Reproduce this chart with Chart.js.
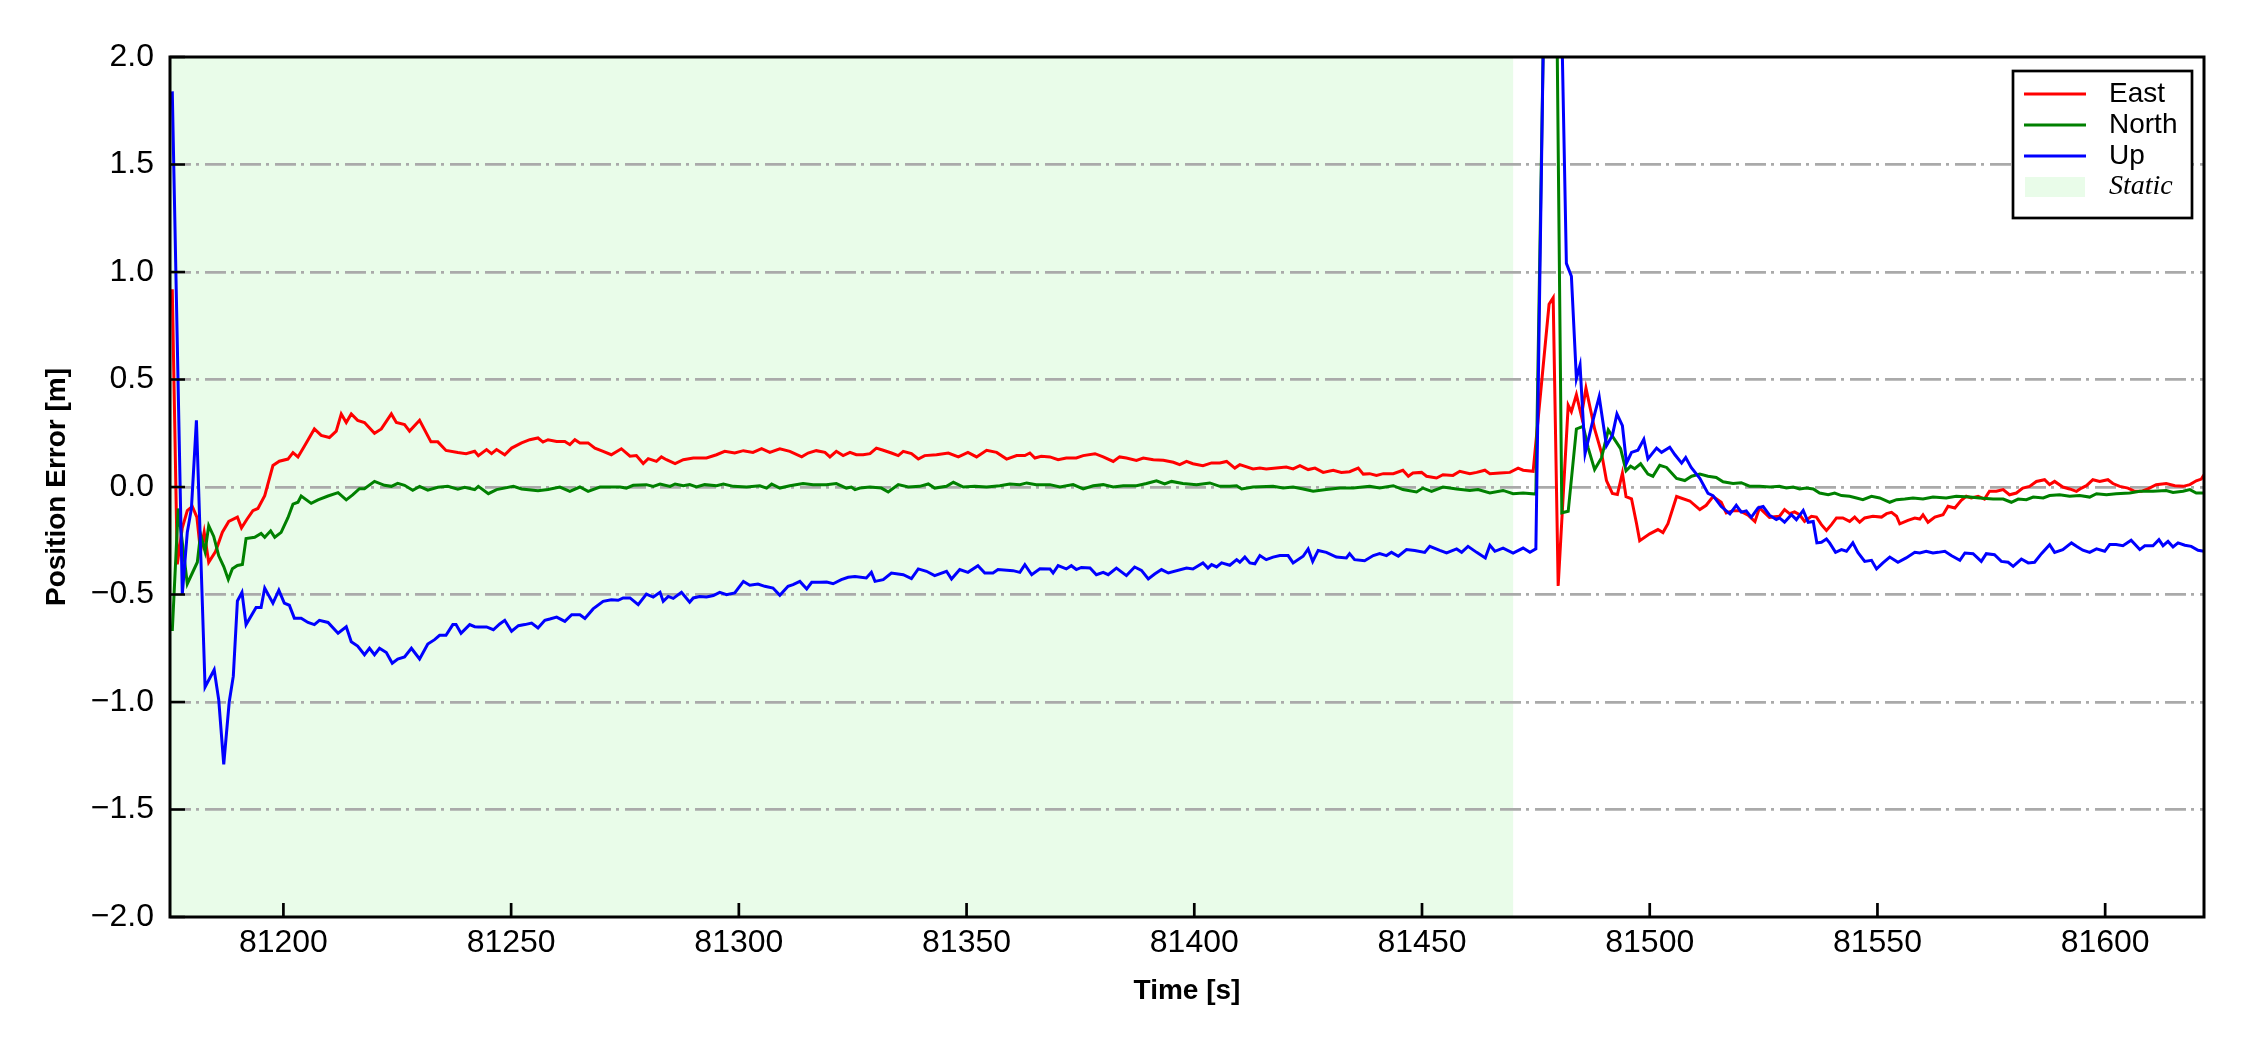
<!DOCTYPE html>
<html>
<head>
<meta charset="utf-8">
<title>Position Error</title>
<script src="https://cdn.jsdelivr.net/npm/chart.js@4.4.1/dist/chart.umd.min.js"></script>
<style>
  html, body { margin: 0; padding: 0; background: #fff; }
  #wrap { width: 2250px; height: 1050px; }
</style>
</head>
<body>
<div id="wrap"><canvas id="chart" width="2250" height="1050"></canvas></div>
<script>
// values, [time (s), error (m)]
const eastErr = [
  [81175.6, 0.92], [81176.7, -0.36], [81177.8, -0.19], [81178.9, -0.11], [81180.0, -0.09], [81181.0, -0.14],
  [81181.8, -0.30], [81182.6, -0.21], [81183.6, -0.35], [81185.1, -0.30], [81186.6, -0.21], [81188.0, -0.16],
  [81189.9, -0.14], [81190.8, -0.19], [81192.0, -0.15], [81193.3, -0.11], [81194.4, -0.10], [81195.9, -0.04],
  [81197.7, 0.10], [81199.1, 0.12], [81201.0, 0.13], [81202.1, 0.16], [81203.2, 0.14], [81204.6, 0.19],
  [81206.8, 0.27], [81208.3, 0.24], [81210.1, 0.23], [81211.6, 0.26], [81212.7, 0.34], [81213.8, 0.30],
  [81214.9, 0.34], [81216.3, 0.31], [81217.8, 0.30], [81220.0, 0.25], [81221.5, 0.27], [81223.7, 0.34],
  [81224.8, 0.30], [81226.6, 0.29], [81227.7, 0.26], [81229.9, 0.31], [81232.4, 0.21], [81233.9, 0.21],
  [81235.7, 0.17], [81238.3, 0.16], [81240.1, 0.155], [81242.0, 0.166], [81242.8, 0.146], [81244.6, 0.174],
  [81245.7, 0.155], [81246.8, 0.174], [81248.6, 0.150], [81250.1, 0.181], [81252.3, 0.205], [81254.1, 0.220],
  [81255.9, 0.228], [81257.0, 0.209], [81258.1, 0.220], [81260.0, 0.212], [81261.8, 0.212], [81262.9, 0.197],
  [81264.0, 0.220], [81265.1, 0.205], [81266.9, 0.205], [81268.4, 0.181], [81270.2, 0.166], [81272.0, 0.150],
  [81274.2, 0.178], [81276.1, 0.143], [81277.5, 0.146], [81279.0, 0.109], [81280.1, 0.132], [81281.9, 0.119],
  [81283.0, 0.140], [81284.1, 0.127], [81286.0, 0.109], [81287.8, 0.127], [81290.0, 0.135], [81292.9, 0.135],
  [81295.1, 0.150], [81296.9, 0.166], [81299.1, 0.158], [81301.0, 0.169], [81303.1, 0.161], [81305.0, 0.178],
  [81306.8, 0.161], [81309.0, 0.178], [81311.2, 0.166], [81313.8, 0.140], [81315.2, 0.158], [81317.0, 0.169],
  [81318.9, 0.161], [81320.0, 0.140], [81321.4, 0.166], [81322.9, 0.146], [81324.4, 0.161], [81325.8, 0.150],
  [81327.3, 0.150], [81328.8, 0.155], [81330.2, 0.181], [81331.7, 0.171], [81333.5, 0.158], [81335.0, 0.146],
  [81336.1, 0.166], [81337.9, 0.155], [81339.4, 0.130], [81340.8, 0.146], [81343.4, 0.150], [81346.0, 0.158],
  [81348.2, 0.140], [81350.3, 0.161], [81352.2, 0.140], [81354.4, 0.171], [81356.6, 0.161], [81358.8, 0.130],
  [81361.0, 0.146], [81362.8, 0.146], [81363.9, 0.158], [81365.0, 0.135], [81366.4, 0.143], [81368.3, 0.140],
  [81370.1, 0.127], [81371.9, 0.135], [81374.1, 0.135], [81375.6, 0.146], [81378.2, 0.155], [81380.0, 0.140],
  [81382.2, 0.119], [81383.6, 0.140], [81385.1, 0.135], [81387.3, 0.124], [81388.8, 0.135], [81391.0, 0.127],
  [81393.2, 0.124], [81395.4, 0.115], [81396.8, 0.104], [81398.3, 0.119], [81399.7, 0.108], [81401.9, 0.099],
  [81403.8, 0.112], [81405.6, 0.112], [81407.1, 0.119], [81408.9, 0.088], [81410.0, 0.104], [81412.9, 0.084],
  [81414.4, 0.088], [81415.8, 0.084], [81418.0, 0.088], [81420.2, 0.093], [81421.7, 0.084], [81423.2, 0.099],
  [81425.0, 0.081], [81426.5, 0.088], [81428.3, 0.068], [81430.5, 0.078], [81432.3, 0.068], [81434.1, 0.071],
  [81436.0, 0.088], [81437.1, 0.060], [81438.5, 0.062], [81440.0, 0.054], [81441.5, 0.062], [81443.7, 0.062],
  [81445.8, 0.078], [81447.0, 0.050], [81448.0, 0.065], [81449.9, 0.068], [81451.0, 0.050], [81453.2, 0.042],
  [81454.6, 0.057], [81456.8, 0.054], [81458.3, 0.073], [81460.5, 0.062], [81462.0, 0.068], [81463.8, 0.078],
  [81464.9, 0.062], [81467.1, 0.065], [81469.3, 0.068], [81471.1, 0.088], [81472.2, 0.078], [81474.4, 0.073],
  [81477.9, 0.85], [81478.8, 0.88], [81479.9, -0.46], [81482.1, 0.38], [81482.8, 0.35], [81483.9, 0.43],
  [81485.0, 0.33], [81486.0, 0.46], [81487.9, 0.27], [81489.4, 0.16], [81490.5, 0.03], [81491.8, -0.03],
  [81492.9, -0.035], [81494.0, 0.065], [81494.8, -0.045], [81496.0, -0.055], [81497.1, -0.17], [81497.8, -0.25],
  [81500.0, -0.218], [81501.8, -0.198], [81502.9, -0.212], [81504.0, -0.171], [81505.9, -0.044], [81508.8, -0.065],
  [81511.0, -0.105], [81512.4, -0.085], [81513.9, -0.044], [81515.7, -0.071], [81516.8, -0.121], [81518.3, -0.111],
  [81519.8, -0.111], [81521.6, -0.131], [81523.1, -0.161], [81524.1, -0.097], [81526.3, -0.141], [81528.5, -0.136],
  [81529.6, -0.105], [81530.7, -0.124], [81531.8, -0.116], [81532.9, -0.129], [81534.0, -0.160], [81535.5, -0.136],
  [81536.6, -0.140], [81537.7, -0.175], [81538.8, -0.202], [81539.9, -0.175], [81541.0, -0.144], [81542.4, -0.144],
  [81543.9, -0.160], [81545.0, -0.140], [81546.1, -0.164], [81547.2, -0.144], [81549.0, -0.136], [81550.9, -0.140],
  [81552.0, -0.124], [81553.1, -0.118], [81554.2, -0.136], [81554.9, -0.171], [81556.7, -0.155], [81558.2, -0.144],
  [81559.3, -0.149], [81560.0, -0.129], [81561.1, -0.164], [81562.6, -0.140], [81564.4, -0.129], [81565.5, -0.090],
  [81567.0, -0.098], [81568.4, -0.062], [81569.5, -0.043], [81570.6, -0.051], [81572.1, -0.043], [81573.5, -0.056],
  [81574.6, -0.020], [81576.1, -0.020], [81577.6, -0.012], [81579.0, -0.036], [81580.5, -0.028], [81581.9, -0.005],
  [81583.4, 0.003], [81584.9, 0.026], [81586.7, 0.034], [81587.8, 0.011], [81588.9, 0.026], [81590.7, 0.000],
  [81592.2, -0.009], [81593.7, -0.020], [81594.8, -0.005], [81595.9, 0.006], [81597.3, 0.034], [81598.8, 0.026],
  [81600.6, 0.034], [81601.7, 0.016], [81603.2, 0.003], [81605.0, -0.005], [81606.5, -0.020], [81607.9, -0.020],
  [81609.4, -0.009], [81611.2, 0.011], [81613.4, 0.016], [81615.3, 0.006], [81617.1, 0.003], [81618.6, 0.011],
  [81620.0, 0.029], [81621.1, 0.037], [81621.7, 0.057]
];

const northErr = [
  [81175.6, -0.67], [81176.9, -0.10], [81178.9, -0.45], [81180.0, -0.40], [81181.1, -0.35], [81181.8, -0.22],
  [81182.8, -0.30], [81183.6, -0.18], [81184.7, -0.23], [81185.8, -0.32], [81186.9, -0.37], [81187.9, -0.43],
  [81188.8, -0.38], [81189.9, -0.365], [81191.0, -0.36], [81191.8, -0.24], [81193.7, -0.234], [81195.1, -0.216],
  [81195.9, -0.234], [81197.2, -0.204], [81198.1, -0.234], [81199.5, -0.211], [81201.0, -0.143], [81202.1, -0.080],
  [81203.2, -0.071], [81203.9, -0.042], [81206.1, -0.076], [81207.6, -0.060], [81209.8, -0.042], [81212.0, -0.026],
  [81213.8, -0.060], [81215.2, -0.037], [81216.7, -0.008], [81217.8, -0.008], [81220.0, 0.026], [81222.2, 0.008],
  [81223.7, 0.003], [81225.1, 0.017], [81226.6, 0.008], [81228.4, -0.015], [81229.9, 0.003], [81231.7, -0.015],
  [81233.9, -0.001], [81236.1, 0.003], [81238.3, -0.010], [81239.8, -0.001], [81242.0, -0.012], [81242.8, 0.003],
  [81245.0, -0.031], [81246.8, -0.012], [81250.5, 0.003], [81252.3, -0.009], [81255.9, -0.017], [81258.1, -0.012],
  [81260.7, 0.000], [81262.9, -0.020], [81265.1, 0.000], [81266.9, -0.020], [81269.5, 0.000], [81273.9, 0.000],
  [81275.3, -0.005], [81276.8, 0.008], [81279.7, 0.011], [81281.2, 0.003], [81282.7, 0.014], [81284.9, 0.003],
  [81286.0, 0.014], [81287.8, 0.006], [81289.2, 0.011], [81290.7, 0.000], [81292.5, 0.011], [81295.1, 0.006],
  [81296.6, 0.014], [81298.8, 0.003], [81301.7, 0.000], [81304.6, 0.006], [81306.1, -0.005], [81307.2, 0.014],
  [81309.0, -0.005], [81311.2, 0.006], [81314.1, 0.016], [81316.3, 0.011], [81319.2, 0.011], [81321.4, 0.016],
  [81323.6, -0.005], [81324.7, 0.000], [81325.5, -0.012], [81326.6, -0.005], [81328.8, 0.000], [81331.3, -0.005],
  [81332.8, -0.023], [81335.0, 0.011], [81337.2, 0.000], [81339.7, 0.003], [81341.6, 0.014], [81343.0, -0.005],
  [81345.6, 0.003], [81347.1, 0.022], [81349.3, 0.000], [81351.8, 0.003], [81354.4, 0.000], [81357.3, 0.006],
  [81359.5, 0.014], [81361.7, 0.011], [81363.2, 0.019], [81365.3, 0.011], [81368.3, 0.011], [81370.5, 0.000],
  [81373.4, 0.011], [81375.6, -0.009], [81377.8, 0.006], [81380.0, 0.011], [81382.2, 0.000], [81384.4, 0.006],
  [81387.3, 0.006], [81389.5, 0.016], [81391.7, 0.029], [81393.5, 0.014], [81395.0, 0.026], [81397.5, 0.016],
  [81400.5, 0.011], [81403.4, 0.019], [81405.6, 0.003], [81407.8, 0.003], [81409.3, 0.006], [81410.4, -0.009],
  [81412.9, 0.000], [81417.3, 0.003], [81419.5, -0.005], [81421.7, 0.000], [81423.9, -0.009], [81426.1, -0.020],
  [81429.0, -0.012], [81432.0, -0.005], [81434.9, -0.005], [81438.5, 0.003], [81440.7, -0.005], [81443.7, 0.006],
  [81445.8, -0.012], [81448.8, -0.023], [81450.2, -0.005], [81452.1, -0.020], [81454.6, 0.000], [81457.6, -0.009],
  [81460.5, -0.016], [81462.3, -0.012], [81464.9, -0.028], [81467.8, -0.016], [81470.0, -0.031], [81472.2, -0.028],
  [81475.0, -0.033], [81477.0, 2.54], [81478.0, 5.0], [81479.0, 3.5], [81480.7, -0.12], [81482.1, -0.113],
  [81483.9, 0.27], [81485.4, 0.282], [81486.5, 0.181], [81487.9, 0.081], [81489.4, 0.135], [81490.9, 0.265],
  [81492.3, 0.22], [81493.6, 0.178], [81494.8, 0.075], [81495.8, 0.097], [81496.7, 0.085], [81498.0, 0.108],
  [81499.6, 0.060], [81500.7, 0.050], [81502.2, 0.101], [81503.7, 0.091], [81505.9, 0.040], [81507.7, 0.030],
  [81509.2, 0.050], [81511.0, 0.060], [81512.8, 0.050], [81514.6, 0.044], [81516.1, 0.024], [81518.3, 0.016],
  [81520.1, 0.020], [81521.9, 0.004], [81524.1, 0.004], [81526.4, 0.000], [81528.5, 0.003], [81530.0, -0.005],
  [81531.5, 0.000], [81532.9, -0.009], [81534.4, -0.005], [81535.9, -0.009], [81537.3, -0.028], [81539.2, -0.036],
  [81540.6, -0.028], [81542.1, -0.040], [81543.9, -0.043], [81545.4, -0.051], [81546.8, -0.059], [81548.7, -0.043],
  [81550.5, -0.051], [81552.7, -0.071], [81554.2, -0.059], [81556.0, -0.056], [81557.8, -0.051], [81560.0, -0.056],
  [81562.2, -0.047], [81565.1, -0.051], [81567.3, -0.043], [81570.3, -0.047], [81572.4, -0.051], [81575.4, -0.056],
  [81577.6, -0.056], [81579.4, -0.071], [81580.9, -0.056], [81582.7, -0.059], [81584.2, -0.047], [81586.4, -0.051],
  [81587.8, -0.040], [81590.0, -0.036], [81592.2, -0.043], [81594.4, -0.040], [81596.6, -0.047], [81598.1, -0.031],
  [81600.3, -0.036], [81602.4, -0.031], [81605.4, -0.028], [81607.6, -0.020], [81610.5, -0.020], [81613.4, -0.016],
  [81614.9, -0.025], [81617.1, -0.020], [81618.6, -0.012], [81620.0, -0.028], [81621.7, -0.028]
];

const upErr = [
  [81175.6, 1.84], [81177.8, -0.50], [81178.9, -0.21], [81179.8, -0.10], [81180.9, 0.31], [81182.8, -0.93],
  [81184.8, -0.85], [81185.8, -0.99], [81186.9, -1.29], [81188.1, -1.00], [81189.0, -0.88], [81189.9, -0.53],
  [81190.9, -0.49], [81191.8, -0.64], [81194.0, -0.56], [81195.1, -0.56], [81195.9, -0.47], [81197.7, -0.54],
  [81199.0, -0.48], [81200.2, -0.54], [81201.3, -0.55], [81202.4, -0.61], [81203.9, -0.61], [81205.4, -0.63],
  [81206.8, -0.64], [81207.9, -0.62], [81209.8, -0.63], [81212.0, -0.68], [81213.8, -0.65], [81214.9, -0.72],
  [81216.3, -0.74], [81217.8, -0.78], [81218.9, -0.75], [81220.0, -0.78], [81221.1, -0.75], [81222.6, -0.77],
  [81223.9, -0.82], [81225.1, -0.80], [81226.6, -0.79], [81228.1, -0.75], [81229.9, -0.80], [81231.7, -0.73],
  [81233.2, -0.71], [81234.3, -0.69], [81235.7, -0.69], [81237.2, -0.64], [81237.9, -0.64], [81239.0, -0.68],
  [81240.9, -0.64], [81242.0, -0.65], [81242.8, -0.651], [81244.6, -0.651], [81246.1, -0.664], [81247.5, -0.637],
  [81248.6, -0.620], [81250.1, -0.671], [81251.6, -0.645], [81253.0, -0.640], [81254.5, -0.633], [81255.9, -0.656],
  [81257.4, -0.620], [81258.5, -0.614], [81260.0, -0.605], [81261.8, -0.625], [81263.3, -0.594], [81265.1, -0.594],
  [81266.2, -0.611], [81268.0, -0.567], [81270.2, -0.532], [81272.0, -0.524], [81273.5, -0.527], [81274.6, -0.516],
  [81276.1, -0.516], [81277.9, -0.547], [81279.7, -0.498], [81281.2, -0.512], [81282.7, -0.490], [81283.4, -0.532],
  [81284.5, -0.509], [81285.6, -0.518], [81287.4, -0.490], [81289.2, -0.536], [81290.0, -0.516], [81291.4, -0.509],
  [81292.9, -0.512], [81294.4, -0.505], [81295.8, -0.490], [81297.3, -0.501], [81299.1, -0.493], [81301.0, -0.439],
  [81302.4, -0.457], [81304.2, -0.451], [81305.7, -0.462], [81307.5, -0.470], [81309.0, -0.504], [81310.8, -0.462],
  [81311.9, -0.454], [81313.4, -0.439], [81314.9, -0.474], [81316.0, -0.443], [81317.8, -0.443], [81319.3, -0.442],
  [81320.7, -0.450], [81322.5, -0.431], [81324.0, -0.420], [81325.5, -0.416], [81328.0, -0.423], [81329.1, -0.397],
  [81329.9, -0.439], [81331.7, -0.431], [81333.5, -0.400], [81336.1, -0.408], [81337.9, -0.426], [81339.4, -0.381],
  [81341.2, -0.392], [81343.0, -0.412], [81345.6, -0.392], [81346.7, -0.428], [81348.5, -0.384], [81350.3, -0.397],
  [81352.5, -0.366], [81354.0, -0.400], [81355.8, -0.400], [81356.9, -0.384], [81360.2, -0.389], [81361.7, -0.397],
  [81362.8, -0.361], [81364.3, -0.408], [81366.1, -0.380], [81368.3, -0.381], [81369.0, -0.400], [81370.1, -0.366],
  [81371.9, -0.381], [81373.0, -0.366], [81374.1, -0.384], [81375.2, -0.374], [81377.1, -0.377], [81378.5, -0.408],
  [81380.0, -0.397], [81381.1, -0.408], [81382.9, -0.377], [81385.1, -0.412], [81386.9, -0.372], [81388.4, -0.388],
  [81389.9, -0.428], [81391.3, -0.405], [81392.8, -0.384], [81394.3, -0.400], [81398.3, -0.377], [81399.7, -0.381],
  [81401.9, -0.353], [81403.0, -0.377], [81403.8, -0.361], [81404.9, -0.372], [81406.0, -0.353], [81407.8, -0.364],
  [81409.3, -0.338], [81410.0, -0.350], [81411.1, -0.326], [81412.2, -0.353], [81413.3, -0.357], [81414.4, -0.319],
  [81415.8, -0.338], [81417.3, -0.326], [81418.8, -0.319], [81420.6, -0.319], [81421.7, -0.353], [81423.9, -0.322],
  [81425.0, -0.288], [81426.0, -0.346], [81427.2, -0.295], [81429.0, -0.304], [81431.2, -0.326], [81433.4, -0.330],
  [81434.1, -0.310], [81435.2, -0.338], [81437.4, -0.343], [81439.3, -0.319], [81440.7, -0.310], [81442.2, -0.319],
  [81443.3, -0.304], [81444.8, -0.322], [81446.6, -0.291], [81448.4, -0.295], [81450.6, -0.304], [81451.7, -0.276],
  [81453.9, -0.295], [81455.4, -0.307], [81457.6, -0.288], [81458.7, -0.304], [81460.1, -0.276], [81462.0, -0.304],
  [81463.9, -0.330], [81464.9, -0.271], [81466.0, -0.299], [81467.8, -0.284], [81470.0, -0.307], [81472.2, -0.284],
  [81473.7, -0.304], [81475.0, -0.288], [81477.0, 2.6], [81478.0, 4.5], [81479.0, 4.0], [81480.0, 2.9],
  [81481.7, 1.04], [81482.8, 0.98], [81483.9, 0.504], [81484.7, 0.567], [81485.8, 0.155], [81487.3, 0.29],
  [81488.9, 0.42], [81490.5, 0.192], [81491.8, 0.24], [81492.8, 0.34], [81494.0, 0.285], [81494.9, 0.111],
  [81496.0, 0.161], [81497.4, 0.171], [81498.7, 0.222], [81499.6, 0.131], [81501.5, 0.181], [81502.6, 0.161],
  [81504.4, 0.185], [81505.5, 0.151], [81507.0, 0.111], [81507.9, 0.137], [81509.1, 0.091], [81511.0, 0.040],
  [81512.8, -0.030], [81513.9, -0.040], [81515.7, -0.091], [81517.6, -0.125], [81519.0, -0.085], [81520.1, -0.117],
  [81521.2, -0.111], [81522.3, -0.141], [81523.8, -0.097], [81524.9, -0.091], [81526.3, -0.131], [81527.8, -0.151],
  [81528.5, -0.144], [81529.6, -0.164], [81531.1, -0.129], [81532.2, -0.152], [81533.7, -0.109], [81534.8, -0.164],
  [81535.9, -0.160], [81536.7, -0.260], [81537.7, -0.257], [81538.8, -0.242], [81539.5, -0.260], [81540.8, -0.304],
  [81542.1, -0.291], [81543.2, -0.299], [81544.6, -0.260], [81545.7, -0.304], [81547.2, -0.346], [81548.7, -0.341],
  [81549.8, -0.381], [81551.2, -0.353], [81552.7, -0.326], [81554.5, -0.350], [81556.3, -0.330], [81558.2, -0.304],
  [81559.3, -0.307], [81560.7, -0.299], [81562.2, -0.307], [81563.3, -0.304], [81564.8, -0.299], [81566.2, -0.319],
  [81568.1, -0.341], [81569.2, -0.307], [81571.0, -0.310], [81572.8, -0.346], [81573.9, -0.310], [81575.7, -0.315],
  [81577.2, -0.346], [81578.7, -0.350], [81579.8, -0.369], [81581.6, -0.335], [81583.1, -0.353], [81584.5, -0.350],
  [81586.0, -0.310], [81587.8, -0.268], [81588.9, -0.304], [81590.7, -0.291], [81592.6, -0.260], [81593.7, -0.276],
  [81595.1, -0.294], [81596.6, -0.304], [81598.1, -0.288], [81599.9, -0.299], [81601.0, -0.268], [81602.4, -0.268],
  [81603.9, -0.273], [81605.7, -0.248], [81607.6, -0.291], [81608.7, -0.273], [81610.5, -0.273], [81611.8, -0.245],
  [81612.7, -0.273], [81613.8, -0.253], [81614.9, -0.279], [81616.0, -0.260], [81617.5, -0.271], [81618.9, -0.276],
  [81620.4, -0.294], [81621.7, -0.299]
];

const seriesLabels = ['East', 'North', 'Up'];
const seriesColors = ['#ff0000', '#008000', '#0000ff'];
const staticSpan = [81175.1, 81470];   // shaded "Static" interval
const timeRange = [81175.1, 81621.7];
const errRange = [-2, 2];
const xTickStep = 50;
const yTickStep = 0.5;

const FONT = '"Liberation Sans", Arial, sans-serif';
const STATIC_FILL = 'rgba(144, 238, 144, 0.2)';

// light green band behind everything
const staticShade = {
  id: 'staticShade',
  beforeDraw(chart) {
    const { ctx, chartArea: a, scales: { x } } = chart;
    const x0 = Math.max(a.left, x.getPixelForValue(staticSpan[0]));
    const x1 = Math.min(a.right, x.getPixelForValue(staticSpan[1]));
    ctx.save();
    ctx.fillStyle = STATIC_FILL;
    ctx.fillRect(x0, a.top, x1 - x0, a.bottom - a.top);
    ctx.restore();
  }
};

// matplotlib style box + inward ticks on left/bottom
const frameTicks = {
  id: 'frameTicks',
  afterDatasetsDraw(chart) {
    const { ctx, chartArea: a, scales: { x, y } } = chart;
    ctx.save();
    ctx.strokeStyle = '#000';
    ctx.lineWidth = 2.7;
    ctx.beginPath();
    y.ticks.forEach(t => {
      const py = y.getPixelForValue(t.value);
      ctx.moveTo(a.left, py);
      ctx.lineTo(a.left + 15, py);
    });
    x.ticks.forEach(t => {
      const px = x.getPixelForValue(t.value);
      ctx.moveTo(px, a.bottom);
      ctx.lineTo(px, a.bottom - 14);
    });
    ctx.stroke();
    ctx.lineWidth = 3;
    ctx.strokeRect(a.left, a.top, a.right - a.left, a.bottom - a.top);
    ctx.restore();
  }
};

// legend box in the upper right corner of the axes
const boxLegend = {
  id: 'boxLegend',
  afterDraw(chart) {
    const ctx = chart.ctx;
    const left = 2013, top = 71, w = 179, h = 147;
    ctx.save();
    ctx.fillStyle = '#fff';
    ctx.fillRect(left, top, w, h);
    ctx.strokeStyle = '#000';
    ctx.lineWidth = 2.7;
    ctx.strokeRect(left, top, w, h);
    ctx.textBaseline = 'middle';
    ctx.textAlign = 'left';
    chart.data.datasets.forEach((ds, i) => {
      const cy = 94 + i * 31;
      ctx.strokeStyle = ds.borderColor;
      ctx.lineWidth = 3;
      ctx.beginPath();
      ctx.moveTo(left + 11, cy);
      ctx.lineTo(left + 73, cy);
      ctx.stroke();
      ctx.fillStyle = '#000';
      ctx.font = '28px ' + FONT;
      ctx.fillText(ds.label, left + 96, cy);
    });
    const sy = 94 + 3 * 31;
    ctx.fillStyle = STATIC_FILL;
    ctx.fillRect(left + 12, sy - 10, 60, 20);
    ctx.fillStyle = '#000';
    ctx.font = 'italic 28px "Liberation Serif", "Times New Roman", serif';
    ctx.fillText('Static', left + 96, sy);
    ctx.restore();
  }
};

const series = [eastErr, northErr, upErr];

new Chart(document.getElementById('chart'), {
  type: 'line',
  data: {
    datasets: series.map((s, i) => ({
      label: seriesLabels[i],
      data: s.map(([t, v]) => ({ x: t, y: v })),
      borderColor: seriesColors[i],
      backgroundColor: seriesColors[i],
      borderWidth: 3,
      pointRadius: 0,
      tension: 0,
      fill: false,
      order: 2 - i   // Up drawn on top, like the original
    }))
  },
  options: {
    responsive: false,
    animation: false,
    devicePixelRatio: 1,
    layout: { padding: { left: 0, top: 57, right: 46, bottom: 0 } },
    plugins: {
      legend: { display: false },
      tooltip: { enabled: false }
    },
    scales: {
      x: {
        type: 'linear',
        min: timeRange[0],
        max: timeRange[1],
        afterFit: s => { s.height = 133; },
        ticks: {
          stepSize: xTickStep,
          includeBounds: false,
          maxRotation: 0,
          autoSkip: false,
          padding: 7,
          color: '#000',
          font: { family: FONT, size: 32, lineHeight: 1.2 },
          callback: v => String(v)
        },
        grid: { display: false, drawTicks: false },
        border: { display: false },
        title: {
          display: true,
          text: 'Time [s]',
          color: '#000',
          font: { family: FONT, size: 28, weight: 'bold', lineHeight: 1.2 },
          padding: { top: 0, bottom: 42 }
        }
      },
      y: {
        min: errRange[0],
        max: errRange[1],
        afterFit: s => { s.width = 170; },
        ticks: {
          stepSize: yTickStep,
          padding: 16,
          color: '#000',
          font: { family: FONT, size: 32, lineHeight: 1.2 },
          callback: v => (v < 0 ? '\u2212' : '') + Math.abs(v).toFixed(1)
        },
        grid: {
          color: c => (c.tick && Math.abs(c.tick.value) >= 2) ? 'rgba(0,0,0,0)' : '#aaaaaa',
          lineWidth: 2.8,
          drawTicks: false
        },
        border: { display: false, dash: [21, 5, 3, 6] },
        title: {
          display: true,
          text: 'Position Error [m]',
          color: '#000',
          font: { family: FONT, size: 28, weight: 'bold', lineHeight: 1.2 },
          padding: { top: 40, bottom: 0 }
        }
      }
    }
  },
  plugins: [staticShade, frameTicks, boxLegend]
});
</script>
</body>
</html>
